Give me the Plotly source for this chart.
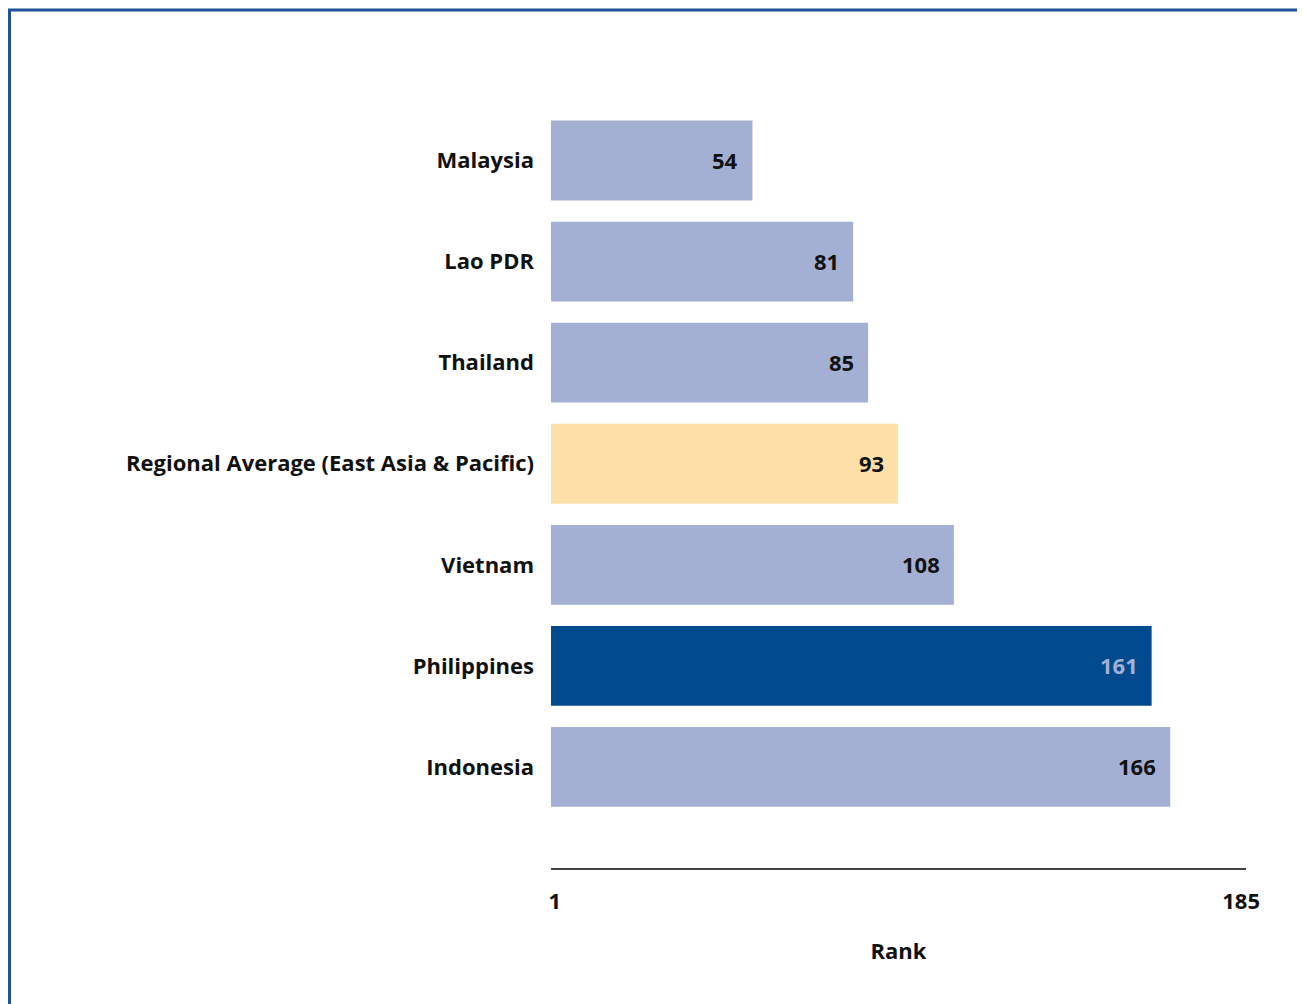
import plotly.graph_objects as go

countries = ["Malaysia", "Lao PDR", "Thailand", "Regional Average (East Asia & Pacific)",
             "Vietnam", "Philippines", "Indonesia"]
ranks = [54, 81, 85, 93, 108, 161, 166]
bar_colors = ["#A4B0D3", "#A4B0D3", "#A4B0D3", "#FDDFA8", "#A4B0D3", "#004A8D", "#A4B0D3"]
label_colors = ["#111111", "#111111", "#111111", "#111111", "#111111", "#A4B0D3", "#111111"]
x_ticks = [1, 185]

# page has an 8px body margin, so the figure is drawn offset by 8px
W, H = 1297, 996
ML, MR, MT, MB = 543, 59, 102, 136

idx = list(range(len(countries)))

fig = go.Figure()
fig.add_trace(go.Bar(
    x=ranks, y=idx, orientation="h",
    marker=dict(color=bar_colors, line=dict(width=0)),
    width=0.79, hoverinfo="skip",
))

for i, (v, c) in enumerate(zip(ranks, label_colors)):
    fig.add_annotation(x=v, y=i, text=f"<b>{v}</b>", showarrow=False,
                       xanchor="right", xshift=-12, yshift=1,
                       font=dict(size=22, color=c, family="Open Sans"))

# outer frame (left and top blue lines)
pw = W - ML - MR
ph = H - MT - MB
def px(x):
    return (x - ML) / pw
def py(y):
    return (H - MB - y) / ph
fig.add_shape(type="line", xref="paper", yref="paper",
              x0=px(1.5), x1=px(1.5), y0=py(H + 5), y1=py(2),
              line=dict(color="#1F5299", width=3))
fig.add_shape(type="line", xref="paper", yref="paper",
              x0=px(0), x1=px(W + 5), y0=py(2), y1=py(2),
              line=dict(color="#1F5299", width=3))

fig.update_layout(
    width=W, height=H,
    margin=dict(l=ML, r=MR, t=MT, b=MB),
    paper_bgcolor="white", plot_bgcolor="white",
    showlegend=False,
    font=dict(family="Open Sans", color="#111111"),
    xaxis=dict(
        range=[0, 186.3], showgrid=False, zeroline=False,
        showline=True, linecolor="#444444", linewidth=2,
        tickvals=x_ticks, ticktext=[f"<b>{t}</b>" for t in x_ticks],
        ticks="", ticklabelstandoff=13,
        tickfont=dict(size=22, color="#111111"),
        title=dict(text="<b>Rank</b>", font=dict(size=22, color="#111111"), standoff=29),
    ),
    yaxis=dict(
        range=[7.0, -0.5], showgrid=False, zeroline=False, showline=False,
        tickvals=idx, ticktext=[f"<b>{c}</b>" for c in countries],
        ticks="", ticklabelstandoff=16,
        tickfont=dict(size=22, color="#111111"),
    ),
)

fig.write_html("out.html")
